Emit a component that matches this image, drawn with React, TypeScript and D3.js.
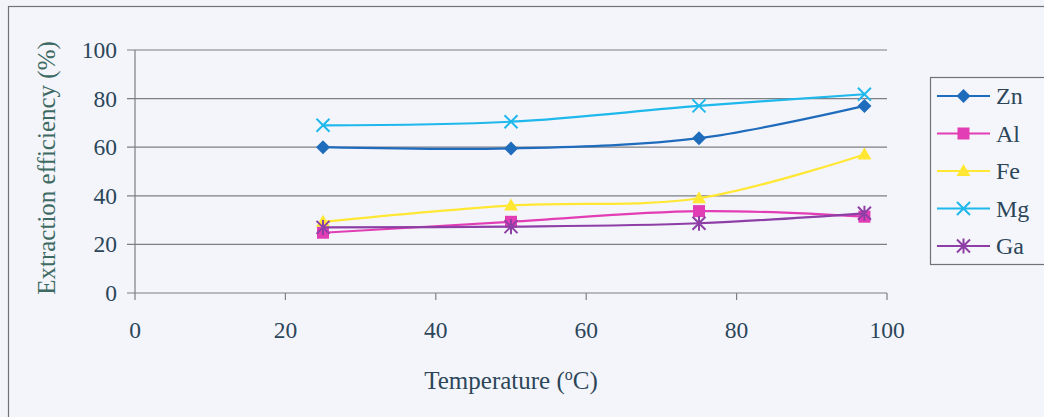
import React from 'react';
import * as d3 from 'd3';

const temps = [25, 50, 75, 97];
const zn = [60, 59.5, 63.7, 77];
const al = [24.8, 29.3, 33.7, 31.4];
const fe = [29.3, 36, 39, 57];
const mg = [69, 70.5, 77, 81.8];
const ga = [27, 27.3, 28.7, 32.8];

const seriesNames = ['Zn', 'Al', 'Fe', 'Mg', 'Ga'];
const seriesValues = [zn, al, fe, mg, ga];
const seriesColors = ['#1f6cbc', '#e23db4', '#ffe733', '#1fb8ec', '#8e3fa6'];
const seriesMarkers = ['diamond', 'square', 'triangle', 'x', 'star'];

const xTicks = [0, 20, 40, 60, 80, 100];
const yTicks = [0, 20, 40, 60, 80, 100];

const W = 1044;
const H = 417;
const font = 'Liberation Serif, serif';
const textColor = '#2c4659';

const Marker = ({ type, x, y, color }: { type: string; x: number; y: number; color: string }) => {
  if (type === 'diamond') {
    const s = 7;
    return <path d={`M${x},${y - s}L${x + s},${y}L${x},${y + s}L${x - s},${y}Z`} fill={color} />;
  }
  if (type === 'square') {
    return <rect x={x - 6} y={y - 6} width={12} height={12} fill={color} />;
  }
  if (type === 'triangle') {
    return <path d={`M${x},${y - 7}L${x + 7},${y + 5}L${x - 7},${y + 5}Z`} fill={color} />;
  }
  if (type === 'x') {
    const s = 6.5;
    return (
      <path
        d={`M${x - s},${y - s}L${x + s},${y + s}M${x - s},${y + s}L${x + s},${y - s}`}
        stroke={color}
        strokeWidth={2}
      />
    );
  }
  const s = 6.5;
  return (
    <path
      d={`M${x - s},${y - s}L${x + s},${y + s}M${x - s},${y + s}L${x + s},${y - s}M${x},${y - s - 1}L${x},${y + s + 1}`}
      stroke={color}
      strokeWidth={2}
    />
  );
};

const App = () => {
  const xScale = d3.scaleLinear().domain([0, 100]).range([135, 887]);
  const yScale = d3.scaleLinear().domain([0, 100]).range([293, 50]);

  const line = d3
    .line<number>()
    .x((_, i) => xScale(temps[i]))
    .y((d) => yScale(d))
    .curve(d3.curveCatmullRom.alpha(0.5));

  const legendY = d3.scaleLinear().domain([0, 1]).range([96, 133.5]);

  return (
    <svg
      width={W}
      height={H}
      style={{ position: 'absolute', left: 0, top: 0, display: 'block', fontFamily: font }}
    >
      <rect x={0} y={0} width={W} height={H} fill="#f3f4fa" />
      <rect x={8.5} y={6.5} width={W + 10} height={H + 10} fill="#f4f5fb" stroke="#6f7378" strokeWidth={1.2} />

      {/* grid */}
      {yTicks.map((t) => (
        <line
          key={'g' + t}
          x1={127}
          x2={887}
          y1={yScale(t)}
          y2={yScale(t)}
          stroke="#7c7f84"
          strokeWidth={1.2}
        />
      ))}
      <line x1={135} x2={135} y1={50} y2={293} stroke="#7c7f84" strokeWidth={1.2} />
      {xTicks.map((t) => (
        <line
          key={'xt' + t}
          x1={xScale(t)}
          x2={xScale(t)}
          y1={293}
          y2={300}
          stroke="#7c7f84"
          strokeWidth={1.2}
        />
      ))}

      {yTicks.map((t) => (
        <text key={'yl' + t} x={117} y={yScale(t) + 8} textAnchor="end" fontSize={23.5} fill={textColor}>
          {t}
        </text>
      ))}
      {xTicks.map((t) => (
        <text key={'xl' + t} x={xScale(t)} y={338} textAnchor="middle" fontSize={23.5} fill={textColor}>
          {t}
        </text>
      ))}

      <text
        transform={`translate(55,168) rotate(-90)`}
        textAnchor="middle"
        fontSize={25}
        fill="#3d6a62"
      >
        Extraction efficiency (%)
      </text>
      <text x={511} y={389} textAnchor="middle" fontSize={25} fill={textColor}>
        Temperature (<tspan dy={-9} fontSize={16}>o</tspan>
        <tspan dy={9}>C)</tspan>
      </text>

      {/* series */}
      {seriesValues.map((vals, si) => (
        <g key={seriesNames[si]}>
          <path d={line(vals) || ''} fill="none" stroke={seriesColors[si]} strokeWidth={2.2} />
          {vals.map((v, i) => (
            <Marker
              key={i}
              type={seriesMarkers[si]}
              x={xScale(temps[i])}
              y={yScale(v)}
              color={seriesColors[si]}
            />
          ))}
        </g>
      ))}

      {/* legend */}
      <rect x={930.5} y={77.5} width={130} height={187} fill="#f5f6fb" stroke="#6f7378" strokeWidth={1.2} />
      {seriesNames.map((name, i) => {
        const y = legendY(i);
        return (
          <g key={'lg' + name}>
            <line x1={937} x2={990} y1={y} y2={y} stroke={seriesColors[i]} strokeWidth={2.2} />
            <Marker type={seriesMarkers[i]} x={963.5} y={y} color={seriesColors[i]} />
            <text x={996} y={y + 8} fontSize={24} fill={textColor}>
              {name}
            </text>
          </g>
        );
      })}
    </svg>
  );
};

export default App;
